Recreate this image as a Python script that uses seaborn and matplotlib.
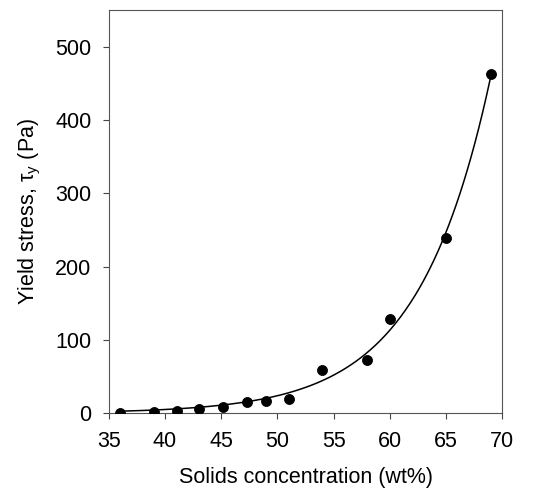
import numpy as np
import pandas as pd
import matplotlib
matplotlib.use("Agg")
import matplotlib.pyplot as plt
import seaborn as sns

# Data
solids_wt = [36.0, 39.0, 41.1, 43.0, 45.2, 47.3, 49.0, 51.0, 54.0, 58.0, 60.0, 65.0, 69.0]
yield_pa = [0.9, 1.4, 2.7, 5.5, 8.2, 15.5, 16.0, 19.5, 59.5, 72.7, 128.6, 238.6, 462.7]
x_ticks = [35, 40, 45, 50, 55, 60, 65, 70]
y_ticks = [0, 100, 200, 300, 400, 500]

sns.set_theme(style="ticks")
plt.rcParams["font.family"] = ["Liberation Sans", "DejaVu Sans"]
plt.rcParams["mathtext.fontset"] = "custom"
plt.rcParams["mathtext.rm"] = "Liberation Sans"
plt.rcParams["mathtext.it"] = "Liberation Sans:italic"

df = pd.DataFrame({"x": solids_wt, "y": yield_pa})

# Exponential regression y = a*exp(b*x), nonlinear least squares (Gauss-Newton)
xa = np.array(solids_wt)
ya = np.array(yield_pa)
b, ln_a = np.polyfit(xa, np.log(ya), 1, w=ya)
a = np.exp(ln_a)
for _ in range(50):
    f = a * np.exp(b * xa)
    J = np.column_stack([np.exp(b * xa), a * xa * np.exp(b * xa)])
    step, *_ = np.linalg.lstsq(J, ya - f, rcond=None)
    a += step[0]
    b += step[1]
xf = np.linspace(xa.min(), xa.max(), 300)
fit = pd.DataFrame({"x": xf, "y": a * np.exp(b * xf)})

fig = plt.figure(figsize=(5.36, 4.96), dpi=100)
ax = fig.add_axes([0.203, 0.167, 0.734, 0.813])

sns.lineplot(data=fit, x="x", y="y", ax=ax, color="black", linewidth=1.1)
sns.scatterplot(data=df, x="x", y="y", ax=ax, color="black", s=52, edgecolor="black", zorder=3)

ax.set_xlim(35, 70)
ax.set_ylim(0, 550)
ax.set_xticks(x_ticks)
ax.set_yticks(y_ticks)
ax.tick_params(axis="both", labelsize=15.5, direction="out", length=4.5, width=0.8,
               color="#444444", labelcolor="black")
ax.tick_params(axis="x", pad=8)
ax.tick_params(axis="y", pad=8)
ax.set_xlabel("Solids concentration (wt%)", fontsize=15.5, labelpad=11, color="black")
ax.set_ylabel(r"Yield stress, τ$_\mathregular{y}$ (Pa)", fontsize=15.5, labelpad=9, color="black")
for s in ax.spines.values():
    s.set_color("#555555")
    s.set_linewidth(0.8)

fig.savefig("out.png", dpi=100)
